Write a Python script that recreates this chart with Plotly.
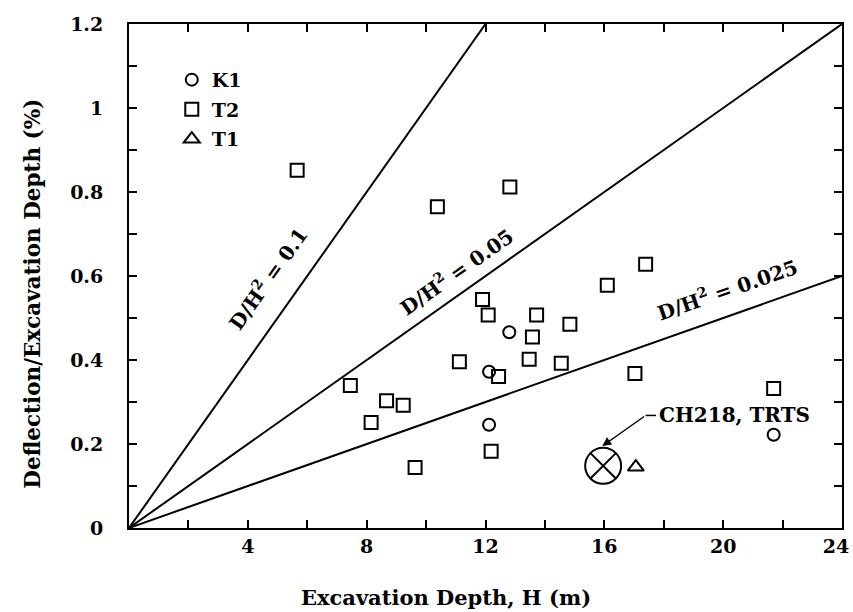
import plotly.graph_objects as go

# ---- data ----
k1_x = [12.80, 12.12, 12.12, 21.70]
k1_y = [0.466, 0.372, 0.246, 0.222]

t2_x = [5.66, 10.38, 12.82, 17.39, 16.10, 11.90, 12.09, 13.72, 14.84, 13.58,
        11.12, 13.47, 14.55, 12.44, 17.03, 21.70, 7.45, 8.15, 8.67, 9.23,
        9.63, 12.19]
t2_y = [0.852, 0.765, 0.812, 0.628, 0.578, 0.544, 0.507, 0.507, 0.485, 0.455,
        0.396, 0.402, 0.392, 0.361, 0.368, 0.332, 0.339, 0.251, 0.303, 0.292,
        0.144, 0.183]

t1_x = [17.06]
t1_y = [0.145]

ch218_x = [15.96]
ch218_y = [0.148]

ratios = [0.1, 0.05, 0.025]
ratio_labels = ["D/H<sup>2</sup> = 0.1", "D/H<sup>2</sup> = 0.05", "D/H<sup>2</sup> = 0.025"]
label_pos_x = [4.66, 11.02, 20.13]
label_pos_y = [0.595, 0.611, 0.568]
label_angle = [-54.7, -35.2, -19.0]

x_tickvals = [2, 4, 6, 8, 10, 12, 14, 16, 18, 20, 22, 24]
x_ticktext = ["", "4", "", "8", "", "12", "", "16", "", "20", "", "24"]
y_tickvals = [0, 0.1, 0.2, 0.3, 0.4, 0.5, 0.6, 0.7, 0.8, 0.9, 1.0, 1.1, 1.2]
y_ticktext = ["0", "", "0.2", "", "0.4", "", "0.6", "", "0.8", "", "1", "", "1.2"]

XMAX, YMAX = 24, 1.2
FONT = "DejaVu Serif"

fig = go.Figure()

# reference lines
for k in ratios:
    xe = min(XMAX, YMAX / k)
    fig.add_trace(go.Scatter(x=[0, xe], y=[0, k * xe], mode="lines",
                             line=dict(color="black", width=2),
                             showlegend=False, hoverinfo="skip"))

fig.add_trace(go.Scatter(x=k1_x, y=k1_y, mode="markers", name="<b>K1</b>", legendgroup="a",
                         marker=dict(symbol="circle-open", size=12, color="black",
                                     line=dict(width=2, color="black"))))
fig.add_trace(go.Scatter(x=t2_x, y=t2_y, mode="markers", name="<b>T2</b>", legendgroup="b",
                         marker=dict(symbol="square-open", size=13, color="black",
                                     line=dict(width=2, color="black"))))
fig.add_trace(go.Scatter(x=t1_x, y=t1_y, mode="markers", name="<b>T1</b>", legendgroup="c",
                         marker=dict(symbol="triangle-up-open", size=14, color="black",
                                     line=dict(width=2, color="black"))))
fig.add_trace(go.Scatter(x=ch218_x, y=ch218_y, mode="markers", showlegend=False,
                         marker=dict(symbol="circle-x-open", size=36, color="black",
                                     line=dict(width=2, color="black"))))
# empty trace so the right-hand frame axis is drawn
fig.add_trace(go.Scatter(x=[], y=[], yaxis="y2", showlegend=False, hoverinfo="skip"))

# leader for CH218 label
leader_x = [17.39, 17.74]
leader_y = [0.268, 0.268]
fig.add_trace(go.Scatter(x=leader_x, y=leader_y, mode="lines", showlegend=False,
                         line=dict(color="black", width=1.5), hoverinfo="skip"))
fig.add_annotation(x=15.93, y=0.195, ax=leader_x[0], ay=leader_y[0],
                   xref="x", yref="y", axref="x", ayref="y", text="",
                   showarrow=True, arrowhead=2, arrowsize=1.2, arrowwidth=1.5,
                   arrowcolor="black")
fig.add_annotation(x=17.76, y=0.27, xref="x", yref="y", text="<b>CH218, TRTS</b>",
                   showarrow=False, xanchor="left", yanchor="middle",
                   font=dict(family=FONT, size=20, color="black"))

for lbl, lx, ly, ang in zip(ratio_labels, label_pos_x, label_pos_y, label_angle):
    fig.add_annotation(x=lx, y=ly, xref="x", yref="y", text="<b>" + lbl + "</b>",
                       showarrow=False, textangle=ang,
                       xanchor="center", yanchor="middle",
                       font=dict(family=FONT, size=20, color="black"))

# axis titles
fig.add_annotation(x=0.445, y=-0.137, xref="paper", yref="paper",
                   xanchor="center", yanchor="middle",
                   text="<b>Excavation Depth, H (m)</b>", showarrow=False,
                   font=dict(family=FONT, size=21, color="black"))
fig.add_annotation(x=-0.1346, y=0.465, xref="paper", yref="paper",
                   xanchor="center", yanchor="middle",
                   text="<b>Deflection/Excavation Depth (%)</b>", showarrow=False,
                   textangle=-90, font=dict(family=FONT, size=21.5, color="black"))

axis_common = dict(showgrid=False, zeroline=False, showline=True, linecolor="black",
                   linewidth=2, mirror="ticks", ticks="inside", ticklen=8,
                   tickwidth=2, tickcolor="black", automargin=False,
                   ticklabeloverflow="allow",
                   tickfont=dict(family=FONT, size=19, color="black"))

fig.update_xaxes(range=[0, XMAX], tickmode="array", tickvals=x_tickvals,
                 ticktext=[("<b>%s</b>&nbsp;&nbsp;" % t if t == "24" else "<b>%s</b>" % t)
                           if t else "" for t in x_ticktext],
                 **axis_common)
fig.update_yaxes(range=[0, YMAX], tickmode="array", tickvals=y_tickvals,
                 ticktext=["<b>%s</b>" % t if t else "" for t in y_ticktext],
                 ticklabelstandoff=20, **axis_common)

fig.update_layout(
    width=853, height=612,
    margin=dict(l=129, r=11, t=24, b=84),
    plot_bgcolor="white", paper_bgcolor="white",
    showlegend=True,
    yaxis2=dict(overlaying="y", side="right", anchor="x", range=[0, YMAX],
                tickmode="array", tickvals=y_tickvals, showticklabels=False,
                showgrid=False, zeroline=False, showline=True, linecolor="black",
                linewidth=2, ticks="inside", ticklen=8, tickwidth=2,
                tickcolor="black", automargin=False),
    legend=dict(x=0.06, y=0.927, xanchor="left", yanchor="top",
                bgcolor="rgba(0,0,0,0)", borderwidth=0,
                font=dict(family=FONT, size=19, color="black"),
                traceorder="grouped", tracegroupgap=2, itemwidth=30),
)

fig.write_html("out.html", config={"displayModeBar": False},
               post_script="document.body.style.margin='0';"
                           "document.body.style.overflow='hidden';")
